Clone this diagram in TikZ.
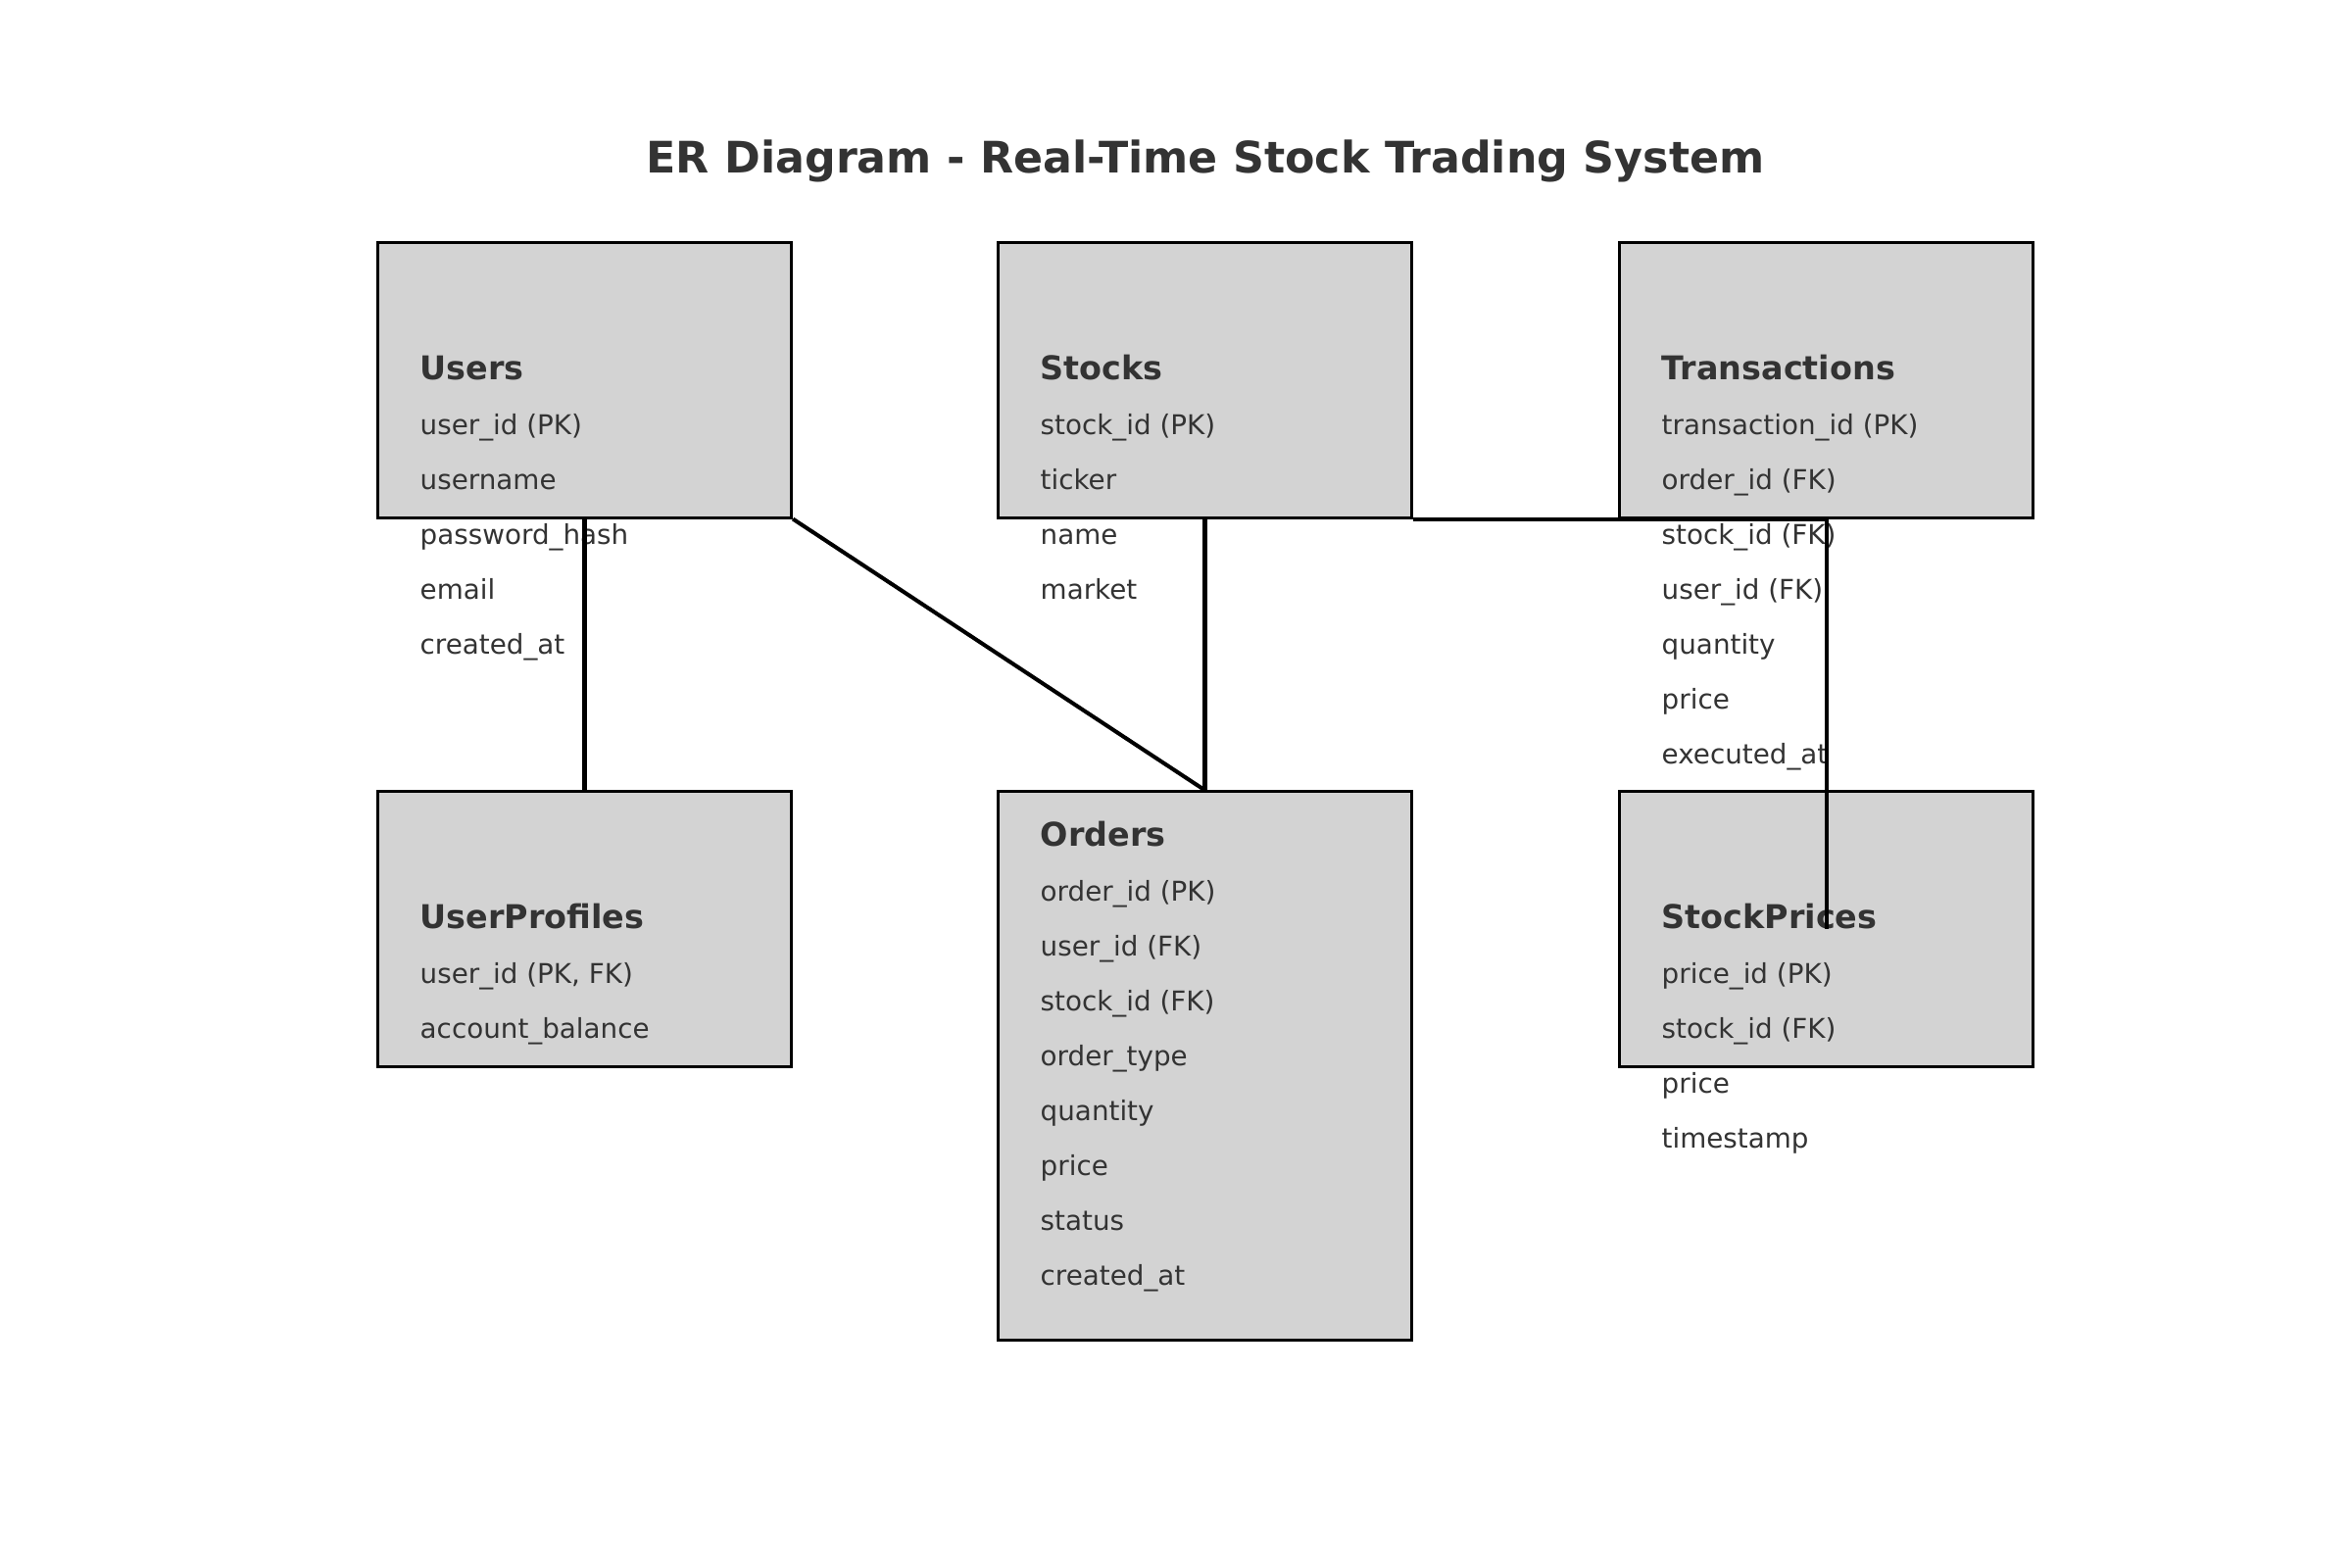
\documentclass[tikz,border=0pt]{standalone}
\usepackage{fontspec}
\setmainfont{DejaVu Sans}
\definecolor{boxgray}{HTML}{D3D3D3}
\definecolor{inkgray}{HTML}{333333}

\tikzset{
  entity/.style={draw=black,line width=0.85pt,fill=boxgray,minimum width=4.22cm,minimum height=2.8cm,inner sep=0pt},
  ename/.style={anchor=base west,inner sep=0pt,text=inkgray,font=\fontsize{9.5}{11}\selectfont\bfseries},
  attr/.style={anchor=base west,inner sep=0pt,text=inkgray,font=\fontsize{7.9}{9}\selectfont},
  link/.style={line width=1.15pt,draw=black}
}

\begin{document}
\begin{tikzpicture}[x=0.01cm,y=-0.01cm]
        \useasboundingbox (0,0) rectangle (2400,1600);
        \node[anchor=base,inner sep=0pt,text=inkgray,font=\fontsize{12.6}{15}\selectfont\bfseries] (heading) at (1230,176) {ER Diagram - Real-Time Stock Trading System};

        % entity boxes
        \node[entity] (users) at (596.5,388) {};
        \node[entity] (stocks) at (1229.5,388) {};
        \node[entity] (transactions) at (1863.5,388) {};
        \node[entity] (userprofiles) at (596.5,948) {};
        \node[entity,minimum height=5.59cm] (orders) at (1229.5,1087.5) {};
        \node[entity] (stockprices) at (1863.5,948) {};

        % names and attributes
        \node[ename] (users-name) at (428,387) {Users};
        \foreach \t [count=\i] in {user\_id (PK),username,password\_hash,email,created\_at}
          \node[attr] (users-\i) at (428,{443+56*(\i-1)}) {\t};

        \node[ename] (stocks-name) at (1061,387) {Stocks};
        \foreach \t [count=\i] in {stock\_id (PK),ticker,name,market}
          \node[attr] (stocks-\i) at (1061,{443+56*(\i-1)}) {\t};

        \node[ename] (transactions-name) at (1695,387) {Transactions};
        \foreach \t [count=\i] in {transaction\_id (PK),order\_id (FK),stock\_id (FK),user\_id (FK),quantity,price,executed\_at}
          \node[attr] (transactions-\i) at (1695,{443+56*(\i-1)}) {\t};

        \node[ename] (userprofiles-name) at (428,947) {UserProfiles};
        \foreach \t [count=\i] in {{user\_id (PK, FK)},account\_balance}
          \node[attr] (userprofiles-\i) at (428,{1003+56*(\i-1)}) {\t};

        \node[ename] (orders-name) at (1061,863) {Orders};
        \foreach \t [count=\i] in {order\_id (PK),user\_id (FK),stock\_id (FK),order\_type,quantity,price,status,created\_at}
          \node[attr] (orders-\i) at (1061,{919+56*(\i-1)}) {\t};

        \node[ename] (stockprices-name) at (1695,947) {StockPrices};
        \foreach \t [count=\i] in {price\_id (PK),stock\_id (FK),price,timestamp}
          \node[attr] (stockprices-\i) at (1695,{1003+56*(\i-1)}) {\t};

        % relations
        \draw[link] (users.south) -- (userprofiles.north);
        \draw[link] (users.south east) -- (orders.north);
        \draw[link] (stocks.south) -- (orders.north);
        \draw[link] (stocks.south east) -- (transactions.south);
        \draw[link] (transactions.south) -- (stockprices.center);
      \end{tikzpicture}
\end{document}
